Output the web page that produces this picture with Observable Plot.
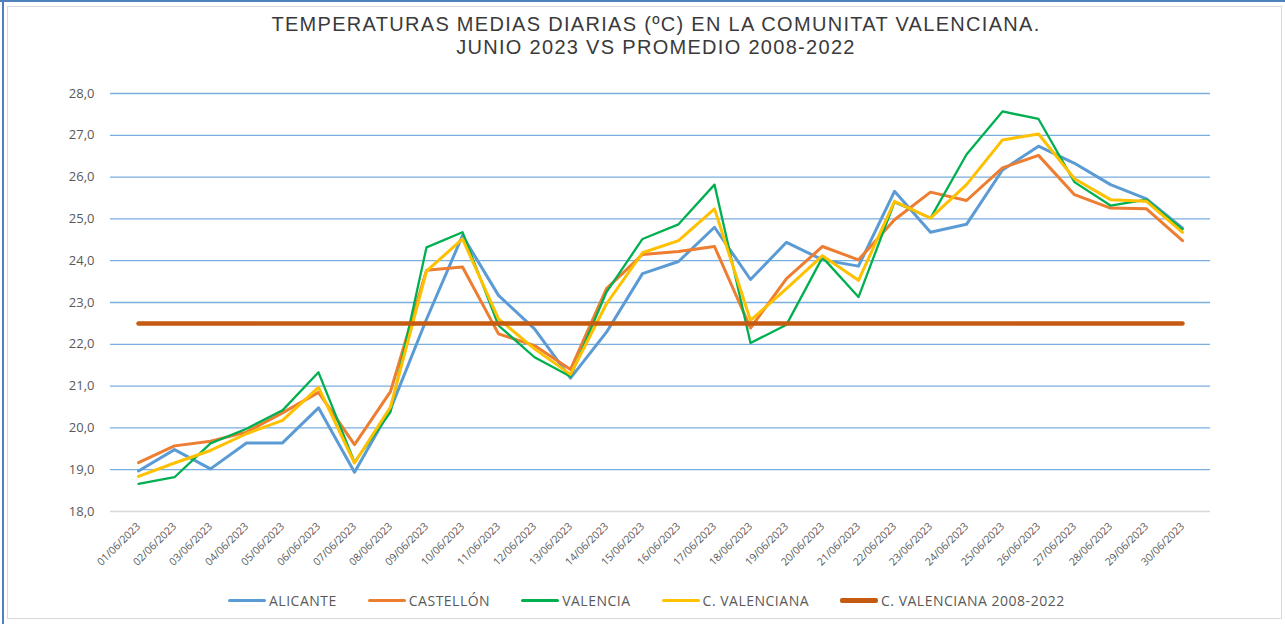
<!DOCTYPE html>
<html><head><meta charset="utf-8">
<script src="https://cdn.jsdelivr.net/npm/d3@7"></script>
<script src="https://cdn.jsdelivr.net/npm/@observablehq/plot@0.6"></script>
<style>
body{margin:0;background:#fff;font-family:"Open Sans",sans-serif;}
#wrap{position:relative;width:1285px;height:624px;overflow:hidden;background:#fff;}
#frame{position:absolute;left:7px;top:6px;width:1275px;height:613px;border:1px solid #d9d9d9;box-sizing:border-box;}
#blueTop{position:absolute;left:0;top:0;width:1285px;height:2px;background:#4f81bd;}
#blueLeft{position:absolute;left:2px;top:0;width:2px;height:624px;background:#4f81bd;}
#title{position:absolute;top:13px;left:0;width:1312px;text-align:center;font-family:"Liberation Sans",Arial,sans-serif;font-size:20px;letter-spacing:1.3px;line-height:23px;color:#3a3a3a;}
#chart{position:absolute;top:60px;left:0;}
#legend{position:absolute;top:591px;left:228px;display:flex;gap:31px;font-size:14px;letter-spacing:0.5px;color:#595959;white-space:nowrap;}
#legend .it{display:flex;align-items:center;gap:3px;}
#legend .sw{width:38px;height:3px;border-radius:2px;}
</style></head>
<body>
<div id="wrap">
  <div id="blueTop"></div><div id="blueLeft"></div>
  <div id="frame"></div>
  <div id="title">TEMPERATURAS MEDIAS DIARIAS (ºC) EN LA COMUNITAT VALENCIANA.<br>JUNIO 2023 VS PROMEDIO 2008-2022</div>
  <div id="chart"></div>
  <div id="legend"></div>
</div>
<script>
const dates = ["01/06/2023","02/06/2023","03/06/2023","04/06/2023","05/06/2023","06/06/2023","07/06/2023","08/06/2023","09/06/2023","10/06/2023","11/06/2023","12/06/2023","13/06/2023","14/06/2023","15/06/2023","16/06/2023","17/06/2023","18/06/2023","19/06/2023","20/06/2023","21/06/2023","22/06/2023","23/06/2023","24/06/2023","25/06/2023","26/06/2023","27/06/2023","28/06/2023","29/06/2023","30/06/2023"];
const alicante = [18.97,19.48,19.02,19.64,19.64,20.48,18.94,20.45,22.6,24.6,23.17,22.37,21.19,22.29,23.69,23.98,24.8,23.55,24.44,24.02,23.87,25.66,24.68,24.87,26.17,26.74,26.33,25.82,25.48,24.78];
const castellon = [19.17,19.57,19.68,19.9,20.36,20.85,19.6,20.87,23.77,23.85,22.25,21.97,21.4,23.33,24.15,24.22,24.34,22.39,23.57,24.34,24.02,24.98,25.64,25.44,26.22,26.52,25.58,25.26,25.24,24.48];
const valencia = [18.66,18.82,19.63,19.98,20.42,21.33,19.18,20.38,24.32,24.68,22.45,21.69,21.23,23.25,24.52,24.87,25.82,22.03,22.47,24.08,23.13,25.4,25.02,26.54,27.57,27.39,25.88,25.32,25.46,24.75];
const cValenciana = [18.84,19.16,19.46,19.86,20.18,20.97,19.16,20.5,23.75,24.52,22.61,21.89,21.28,22.97,24.19,24.48,25.24,22.57,23.33,24.12,23.53,25.42,25.02,25.82,26.89,27.03,25.96,25.46,25.42,24.68];
const promedio = [22.5,22.5,22.5,22.5,22.5,22.5,22.5,22.5,22.5,22.5,22.5,22.5,22.5,22.5,22.5,22.5,22.5,22.5,22.5,22.5,22.5,22.5,22.5,22.5,22.5,22.5,22.5,22.5,22.5,22.5];
const yTicks = [18,19,20,21,22,23,24,25,26,27,28];

const seriesNames = ["ALICANTE","CASTELLÓN","VALENCIA","C. VALENCIANA","C. VALENCIANA 2008-2022"];
const seriesColors = ["#5b9bd5","#ed7d31","#00b050","#ffc000","#c55a11"];
const seriesWidths = [3,3,2.3,3,4.5];
const seriesValues = [alicante, castellon, valencia, cValenciana, promedio];

const tables = seriesValues.map((vals, i) => dates.map((d, j) => ({date: d, value: vals[j], series: seriesNames[i]})));

const lineMarks = tables.map((t, i) => Plot.line(t, {
  x: "date", y: "value", stroke: seriesColors[i], strokeWidth: seriesWidths[i],
  strokeLinejoin: "round", strokeLinecap: "round"
}));

const chart = Plot.plot({
  width: 1285,
  height: 510,
  marginTop: 33,
  marginBottom: 59,
  marginLeft: 110,
  marginRight: 75,
  style: {fontFamily: "'Open Sans', sans-serif", color: "#595959", background: "transparent"},
  x: {type: "point", domain: dates, padding: 0.5, label: null},
  y: {domain: [18, 28], label: null},
  marks: [
    Plot.ruleY(yTicks.filter(v => v > 18), {stroke: "#7aaede", strokeWidth: 1.3}),
    Plot.ruleY([18], {stroke: "#d9d9d9", strokeWidth: 1.3}),
    Plot.axisY(yTicks, {tickSize: 0, tickPadding: 16, fontSize: 13, tickFormat: d => d.toFixed(1).replace(".", ","), fill: "#595959"}),
    Plot.axisX({tickSize: 0, tickPadding: 13, tickRotate: -45, fontSize: 10.5, fill: "#595959"}),
    ...lineMarks
  ]
});
document.getElementById("chart").appendChild(chart);

const legend = document.getElementById("legend");
seriesNames.forEach((n, i) => {
  const it = document.createElement("div"); it.className = "it";
  const sw = document.createElement("div"); sw.className = "sw";
  sw.style.background = seriesColors[i];
  sw.style.height = (i === 4 ? 4.5 : 3) + "px";
  const tx = document.createElement("span"); tx.textContent = n;
  it.appendChild(sw); it.appendChild(tx); legend.appendChild(it);
});
</script>
</body></html>
